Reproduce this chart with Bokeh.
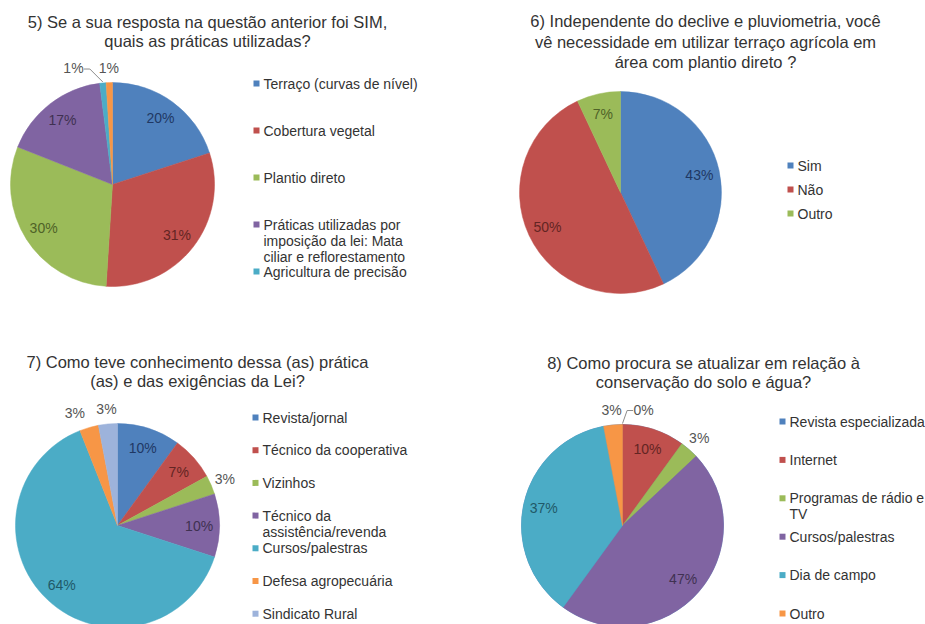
import math
from bokeh.plotting import figure
from bokeh.models import Range1d
from bokeh.embed import file_html
from bokeh.resources import INLINE
from bokeh.core.properties import value

W, H = 925, 624

# ---------------- data ----------------
q5_title = ["5) Se a sua resposta na questão anterior foi SIM,", "quais as práticas utilizadas?"]
q5_categories = ["Terraço (curvas de nível)", "Cobertura vegetal", "Plantio direto",
                 "Práticas utilizadas por\nimposição da lei: Mata\nciliar e reflorestamento",
                 "Agricultura de precisão", "Outro"]
q5_values = [20, 31, 30, 17, 1, 1]

q6_title = ["6) Independente do declive e pluviometria, você",
            "vê necessidade em utilizar terraço agrícola em",
            "área com plantio direto ?"]
q6_categories = ["Sim", "Não", "Outro"]
q6_values = [43, 50, 7]

q7_title = ["7) Como teve conhecimento dessa (as) prática", "(as) e das exigências da Lei?"]
q7_categories = ["Revista/jornal", "Técnico da cooperativa", "Vizinhos",
                 "Técnico da\nassistência/revenda", "Cursos/palestras",
                 "Defesa agropecuária", "Sindicato Rural"]
q7_values = [10, 7, 3, 10, 64, 3, 3]

q8_title = ["8) Como procura se atualizar em relação à", "conservação do solo e água?"]
q8_categories = ["Revista especializada", "Internet", "Programas de rádio e\nTV",
                 "Cursos/palestras", "Dia de campo", "Outro"]
q8_values = [0, 10, 3, 47, 37, 3]

# ---------------- style / layout ----------------
COLORS = ["#4F81BD", "#C0504D", "#9BBB59", "#8064A2", "#4BACC6", "#F79646", "#9DB3DB"]
DARK = ["#1F3864", "#632523", "#4F6228", "#3F3151", "#215968", "#974806", "#2C4D75"]
FONT = value("Liberation Sans")
TEXT_COL = "#333333"
OUT_COL = "#555555"
TITLE_FS = 16.5
LEG_FS = 14
LAB_FS = 14

charts = [
    dict(title=q5_title, cats=q5_categories, vals=q5_values, cx=112, cy=184, r=102,
         tx=207, ty=[21, 40], lx=256, ly0=83, ldy=47, ln=5,
         nudge={4: -28}, leader={4: True}),
    dict(title=q6_title, cats=q6_categories, vals=q6_values, cx=620, cy=192, r=101,
         tx=705, ty=[20, 41, 61], lx=790, ly0=165, ldy=24, ln=3,
         nudge={}, leader={}),
    dict(title=q7_title, cats=q7_categories, vals=q7_values, cx=117, cy=525, r=102,
         tx=197, ty=[361, 380], lx=255, ly0=417, ldy=32.7, ln=7,
         nudge={5: -10}, leader={}),
    dict(title=q8_title, cats=q8_categories, vals=q8_values, cx=622, cy=525, r=101,
         tx=703, ty=[362, 381], lx=782, ly0=421, ldy=38.4, ln=6,
         nudge={0: 21}, leader={0: True}),
]

p = figure(width=W, height=H, x_range=Range1d(0, W), y_range=Range1d(0, H),
           x_axis_type=None, y_axis_type=None, toolbar_location=None,
           output_backend="svg", min_border=0)
p.grid.visible = False
p.outline_line_color = None
p.background_fill_color = "white"
p.border_fill_color = "white"


def Y(ypix):
    return H - ypix


for c in charts:
    vals = c["vals"]
    total = float(sum(vals))
    cx, cy, r = c["cx"], c["cy"], c["r"]
    cum = 0.0
    starts, ends, cols = [], [], []
    lab_x, lab_y, lab_t, lab_c = [], [], [], []
    for i, v in enumerate(vals):
        f0 = cum / total
        f1 = (cum + v) / total
        cum += v
        starts.append(math.pi / 2 - 2 * math.pi * f0)
        ends.append(math.pi / 2 - 2 * math.pi * f1)
        cols.append(COLORS[i])
        mid = 2 * math.pi * (f0 + f1) / 2
        pct = round(100 * v / total)
        if pct >= 5:
            d = 0.8 * r
            col = DARK[i]
        else:
            d = r + 15
            col = OUT_COL
        lx = cx + d * math.sin(mid) + c["nudge"].get(i, 0)
        ly = cy - d * math.cos(mid)
        text = f"{pct}%"
        lab_x.append(lx)
        lab_y.append(Y(ly))
        lab_t.append(text)
        lab_c.append(col)
        if c["leader"].get(i):
            sx = cx + (r + 1) * math.sin(mid)
            sy = cy - (r + 1) * math.cos(mid)
            side = -1 if c["nudge"].get(i, 0) < 0 else 1
            half_w = len(text) * 0.3 * LAB_FS
            ex = lx - side * (half_w + 2)
            ey = ly + 1
            elx = ex - side * 6
            p.line([sx, elx, ex], [Y(sy), Y(ey), Y(ey)], line_color="#8C8C8C", line_width=1)
    p.wedge(x=[cx] * len(vals), y=[Y(cy)] * len(vals), radius=r,
            start_angle=starts, end_angle=ends, direction="clock",
            fill_color=cols, line_color=cols, line_width=0.5)
    p.text(x=lab_x, y=lab_y, text=lab_t, text_color=lab_c, text_font=FONT,
           text_font_size=f"{LAB_FS}px", text_align="center", text_baseline="middle")

    # title
    p.text(x=[c["tx"]] * len(c["title"]), y=[Y(t) for t in c["ty"]], text=c["title"],
           text_color=TEXT_COL, text_font=FONT, text_font_size=f"{TITLE_FS}px",
           text_align="center", text_baseline="middle")

    # legend
    mx, my, tx, ty, tt = [], [], [], [], []
    mcols = []
    for i in range(c["ln"]):
        y0 = c["ly0"] + i * c["ldy"]
        mx.append(c["lx"])
        my.append(Y(y0))
        mcols.append(COLORS[i])
        for k, line in enumerate(c["cats"][i].split("\n")):
            tx.append(c["lx"] + 7)
            ty.append(Y(y0 + k * 16))
            tt.append(line)
    p.scatter(x=mx, y=my, marker="square", size=6, fill_color=mcols, line_color=None)
    p.text(x=tx, y=ty, text=tt, text_color=TEXT_COL, text_font=FONT,
           text_font_size=f"{LEG_FS}px", text_align="left", text_baseline="middle")

open("out.html", "w").write(file_html(p, INLINE))
